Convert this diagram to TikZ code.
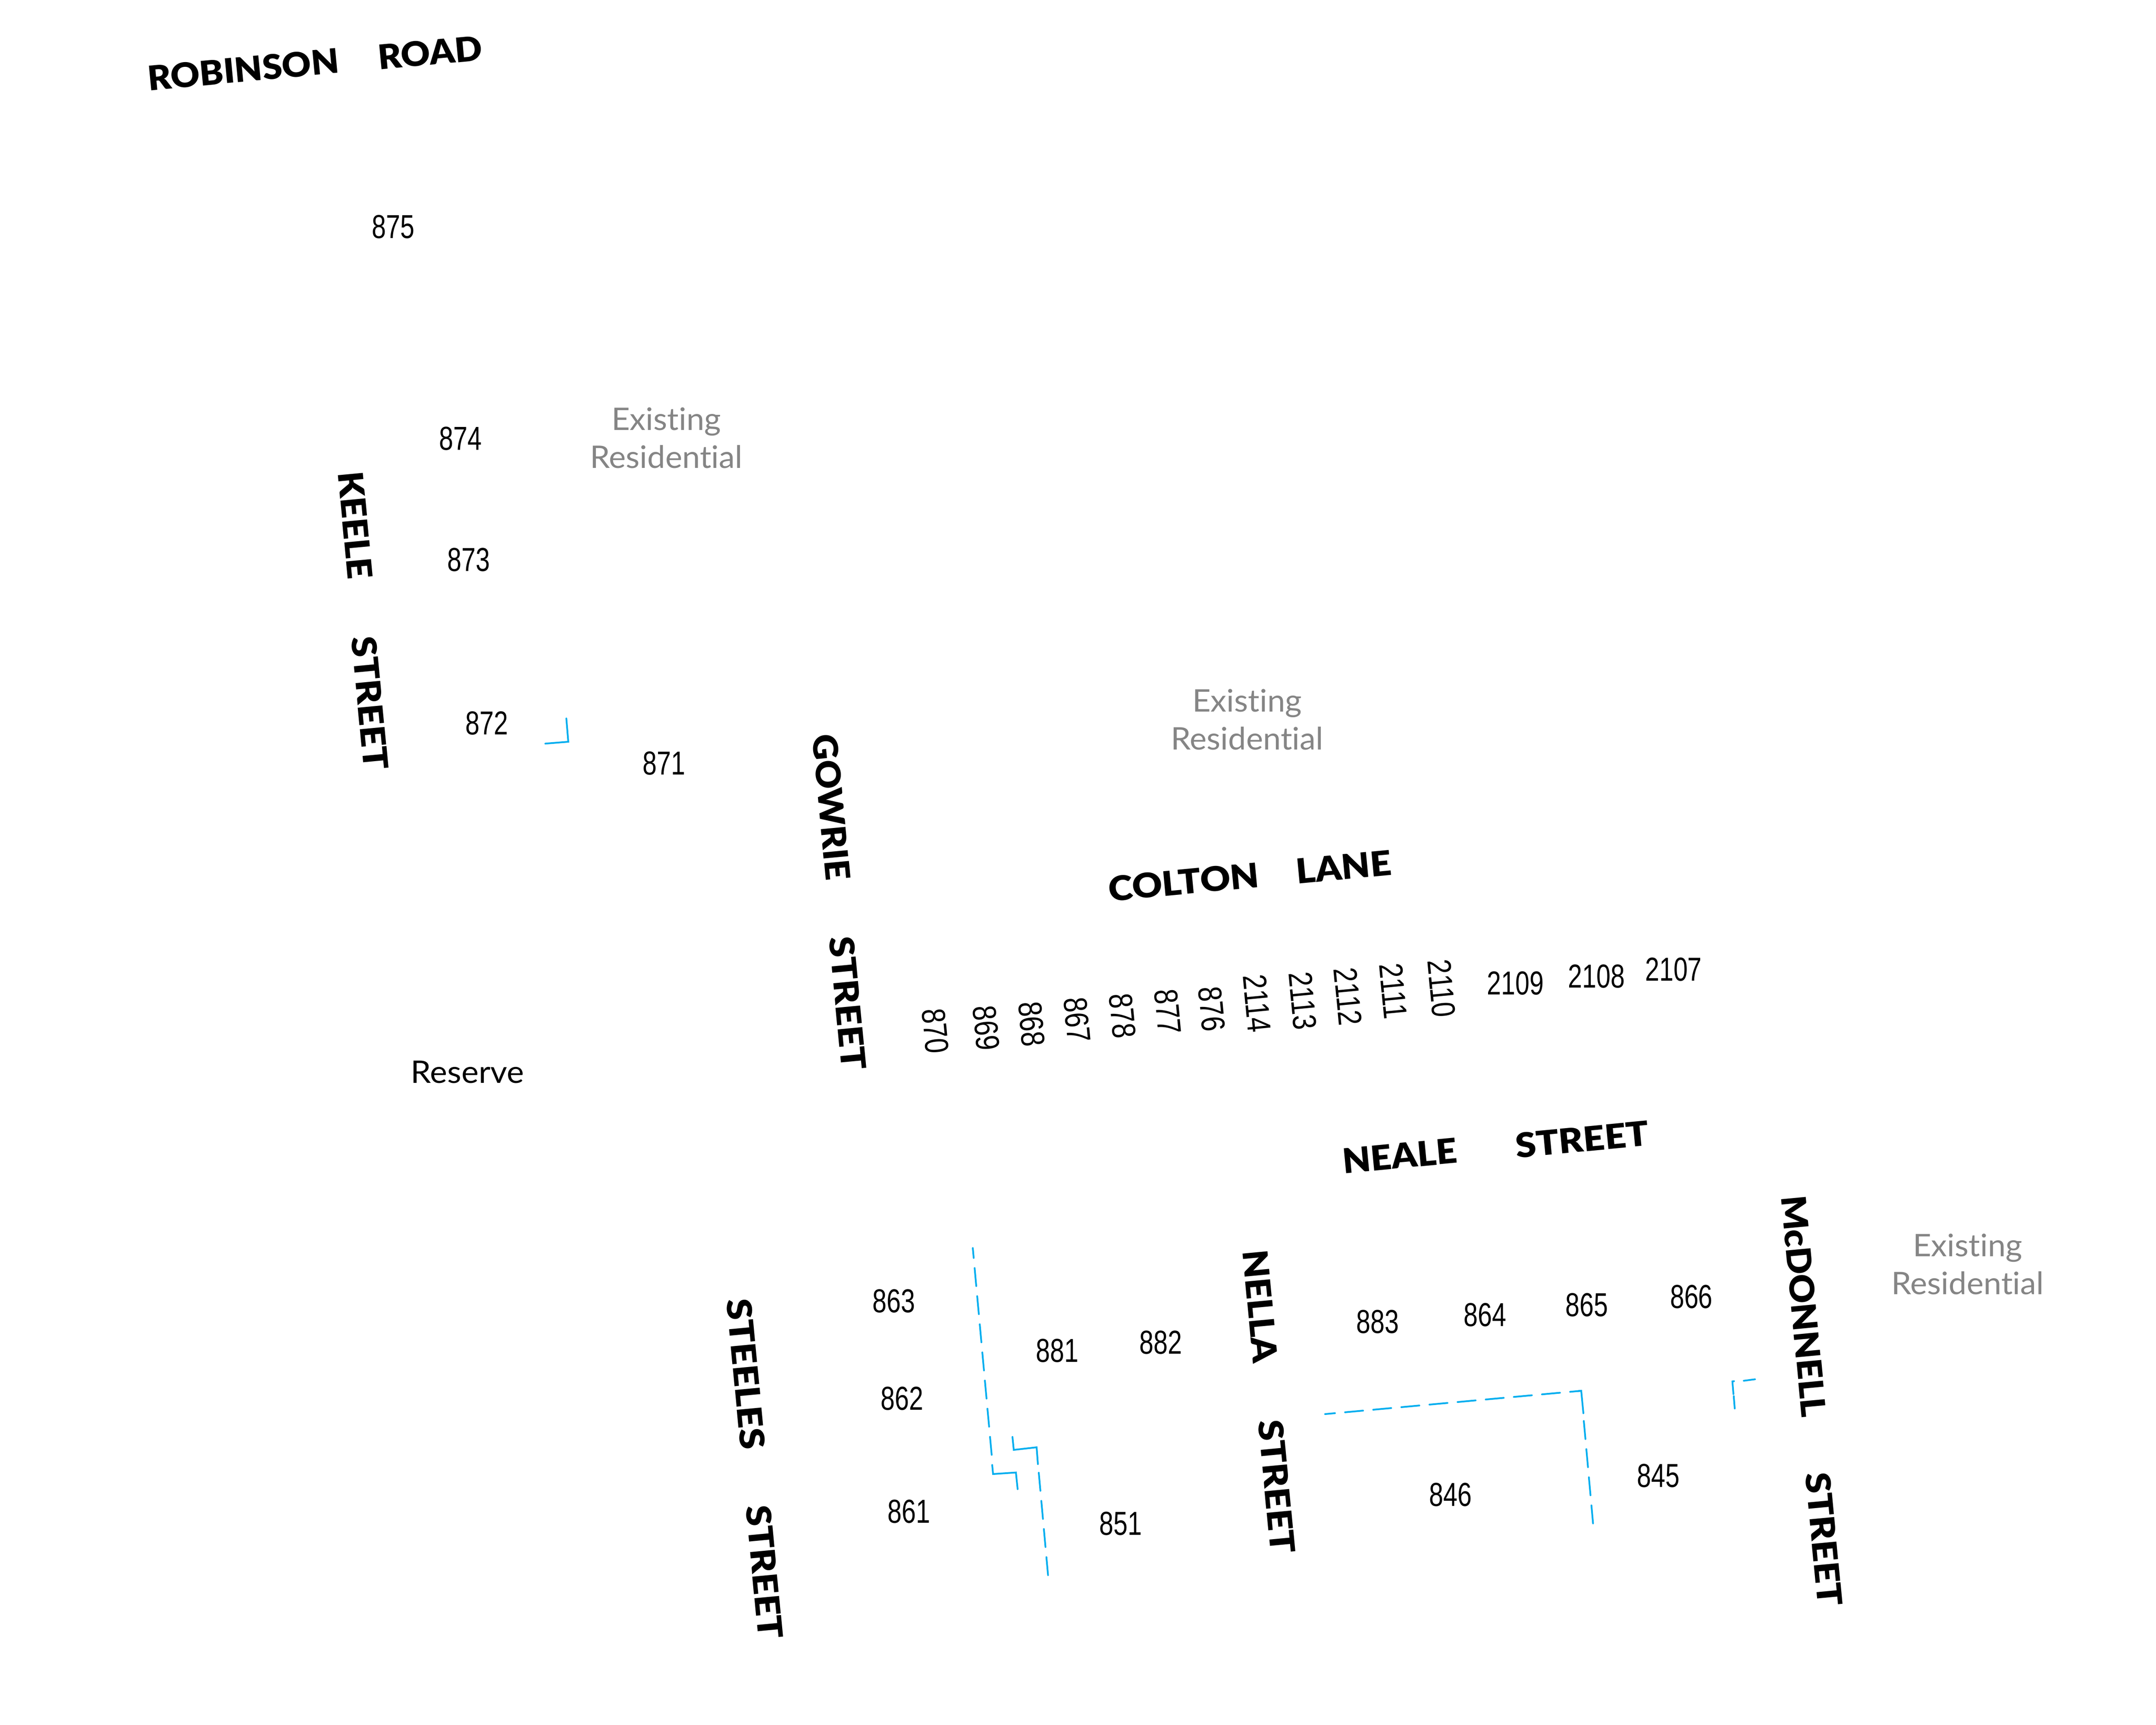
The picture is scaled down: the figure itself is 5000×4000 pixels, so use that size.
\documentclass[tikz,border=0pt]{standalone}
\usepackage{graphicx}
\usepackage{fontspec}
\setmainfont{Liberation Sans}
\newfontfamily\streetf{Lato Black}
\newfontfamily\labelf[Ligatures=NoCommon]{Lato}
\definecolor{planblue}{HTML}{00AEEF}
\definecolor{plangrey}{HTML}{858585}
\tikzset{
  lotno/.style={inner sep=0pt,font=\fontsize{15.4}{15.4}\selectfont,text=black},
  lotlabel/.style={inner sep=0pt,align=center,xscale=1.03,font=\labelf\fontsize{14.4}{17.6}\selectfont,text=plangrey},
  reservelabel/.style={inner sep=0pt,xscale=1.05,font=\labelf\fontsize{14.4}{17.6}\selectfont,text=black},
  street/.style={inner sep=0pt,text=black},
  boundary/.style={draw=planblue,line width=0.8pt,line cap=round,line join=miter},
  boundarydash/.style={boundary,dash pattern=on 8.4pt off 4.7pt}
}
\newcommand{\streetname}[6]{\node[street,rotate=#4] (#1) at (#2,#3) {\resizebox{\dimexpr #5pt/5\relax}{11.6pt}{\streetf #6}};}
\begin{document}
\begin{tikzpicture}[x=0.2pt,y=-0.2pt]
\useasboundingbox (0,0) rectangle (5000,4000);
\fill[white] (0,0) rectangle (5000,4000);
% flat lot numbers
\foreach \t/\x/\y in {875/286/165,874/335/319,873/341/407,872/354/526,871/483/555,
  2109/1102/715,2108/1161/710,2107/1217/705,
  863/650/946,862/656/1017,861/661/1099,881/769/982,882/844/976,
  883/1002/961,864/1080/956,865/1154/949,866/1230/943,851/815/1108,846/1055/1087,845/1206/1073}
  \node[lotno,xscale=0.77] (lot\t) at ({\x*3.189},{\y*3.189}) {\t};
% turned lot numbers
\foreach \t/\x/\y in {870/679/749,869/716/747,868/749/744,867/782/741,878/815/738,877/848/735,876/880/733,
  2114/913/729,2113/946/727,2112/979/724,2111/1012/720,2110/1047/718}
  \node[lotno,rotate=-84.5,xscale=0.81] (lot\t) at ({\x*3.189+4},{\y*3.189+2}) {\t};
% area labels
\node[lotlabel] (resa) at (1545,1016) {Existing\\Residential};
\node[lotlabel] (resb) at (2892,1668) {Existing\\Residential};
\node[lotlabel] (resc) at (4563,2931) {Existing\\Residential};
\node[reservelabel] (reserve) at (1084,2486) {Reserve};
% street names
\streetname{robinson}{564}{161}{5.4}{445}{ROBINSON}
\streetname{road}{997}{122}{5.4}{242}{ROAD}
\streetname{keele}{824}{1218}{-84.6}{250}{KEELE}
\streetname{keelest}{858}{1630}{-84.6}{310}{STREET}
\streetname{gowrie}{1928}{1872}{-84.6}{339}{GOWRIE}
\streetname{gowriest}{1966}{2326}{-84.6}{310}{STREET}
\streetname{colton}{2745}{2045}{5.4}{350}{COLTON}
\streetname{lane}{3116}{2010}{5.4}{221}{LANE}
\streetname{neale}{3246}{2680}{5.4}{266}{NEALE}
\streetname{nealest}{3669}{2642}{5.4}{310}{STREET}
\streetname{nella}{2923}{3029}{-84.6}{262}{NELLA}
\streetname{nellast}{2961}{3447}{-84.6}{310}{STREET}
\streetname{steeles}{1730}{3186}{-84.6}{350}{STEELES}
\streetname{steelesst}{1773}{3645}{-84.6}{310}{STREET}
\streetname{mcdonnell}{4183}{3029}{-84.6}{515}{McDONNELL}
\streetname{mcdonnellst}{4230}{3569}{-84.6}{310}{STREET}
% boundary lines
\draw[boundary] (1313.4,1666) -- (1317.9,1720) -- (1264.7,1724.3);
\draw[boundarydash,dash phase=3.8pt] (2256,2894) -- (2300,3376);
\draw[boundary] (2301,3397) -- (2303,3418) -- (2356,3414.5) -- (2360,3453);
\draw[boundary] (2348,3332) -- (2351,3362) -- (2404,3356) -- (2407,3395);
\draw[boundarydash] (2409,3415) -- (2431,3658);
\draw[boundarydash,dash phase=3.8pt] (3073,3279) -- (3667,3225);
\draw[boundary] (3660,3225.6) -- (3667,3225) -- (3672,3277);
\draw[boundarydash] (3673,3295) -- (3695,3539);
\draw[boundary] (4070,3198.3) -- (4044,3201.7);
\draw[boundary] (4021.4,3202.7) -- (4017.6,3203.3) -- (4020,3232.7);
\draw[boundary] (4020.7,3237.3) -- (4023,3266);
\end{tikzpicture}
\end{document}
